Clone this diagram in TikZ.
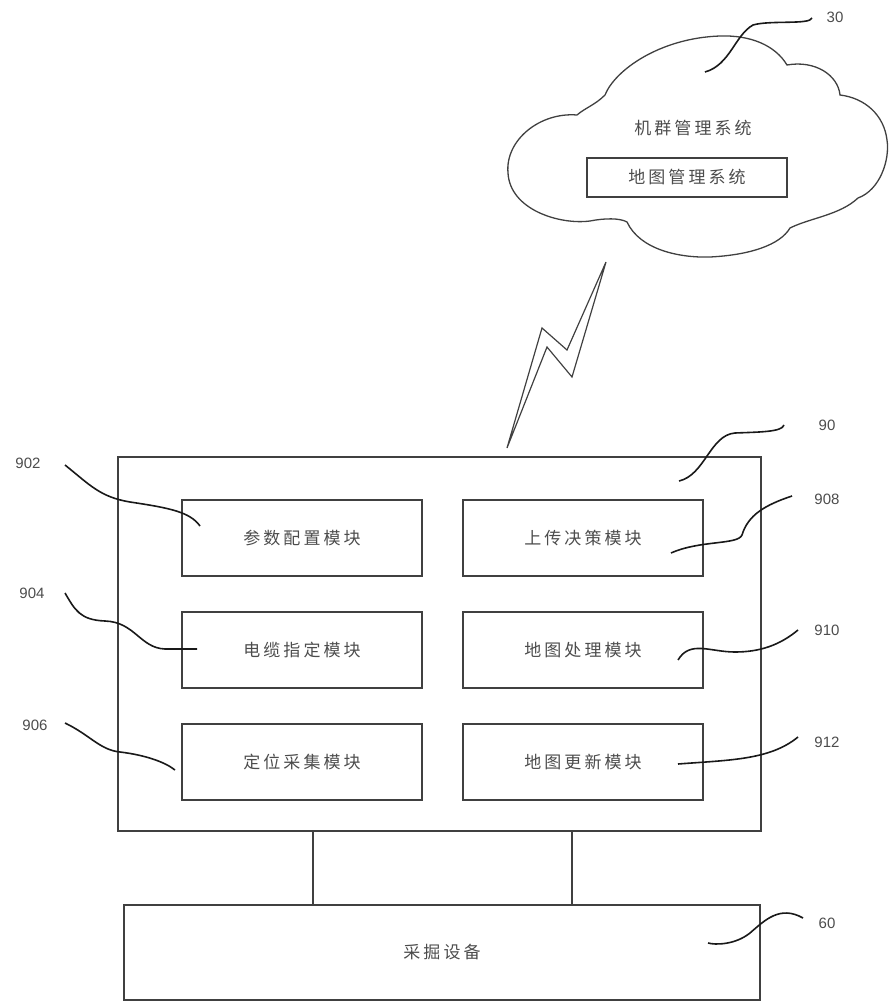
\documentclass[tikz,border=0pt]{standalone}
\usepackage{fontspec}
\setmainfont{Liberation Sans}
\newfontfamily\cjk[LetterSpace=18]{Noto Sans CJK SC}
\begin{document}
\begin{tikzpicture}[x=1pt,y=-1pt,
  frame/.style={draw=black!75, line width=1.5pt},
  box/.style={frame, minimum width=240pt, minimum height=76pt, inner sep=0pt, text=black!70, font=\cjk\fontsize{17}{19}\selectfont},
  lead/.style={draw=black!90, line width=1.6pt},
  num/.style={text=black!70, font=\fontsize{15}{17}\selectfont}]
\useasboundingbox (0,0) rectangle (888,1003);

% cloud 30
\draw[frame, line width=1.3pt] (577,115) .. controls (540,112) and (505,140) .. (508,173)
  .. controls (510,210) and (560,225) .. (590,221) .. controls (605,218) and (620,218) .. (627,222)
  .. controls (640,250) and (680,258) .. (710,257) .. controls (750,255) and (780,245) .. (790,228)
  .. controls (810,218) and (840,215) .. (858,198) .. controls (880,190) and (890,160) .. (887,140)
  .. controls (884,115) and (865,98) .. (840,95) .. controls (838,75) and (815,60) .. (787,65)
  .. controls (775,45) and (750,35) .. (720,36) .. controls (660,38) and (615,70) .. (605,95)
  .. controls (595,105) and (585,108) .. (577,115) -- cycle;
\node[box, draw=none] (fleet) at (693,128) {机群管理系统};
\node[box, minimum width=200pt, minimum height=39pt] (map) at (687,177.5) {地图管理系统};

% wireless link
\draw[frame, line width=1.2pt, line join=miter] (606,262) -- (567,350) -- (542,328) -- (507,448) -- (547,347) -- (572,377) -- cycle;

% system 90
\node[frame, minimum width=643pt, minimum height=374pt] (sys) at (439.5,644) {};
\foreach \n/\t/\x/\y in {902/参数配置模块/302/538, 904/电缆指定模块/302/650, 906/定位采集模块/302/762,
                         908/上传决策模块/583/538, 910/地图处理模块/583/650, 912/地图更新模块/583/762}
  \node[box] (m\n) at (\x,\y) {\t};

% equipment 60
\node[box, minimum width=636pt, minimum height=95pt] (dev) at (442,952.5) {采掘设备};
\coordinate (c1) at (313,0);
\coordinate (c2) at (572,0);
\foreach \c in {c1,c2} {\draw[frame] (sys.south -| \c) -- (dev.north -| \c);}

% labels
\foreach \n/\x/\y in {30/835/17, 90/827/425, 902/28/463, 904/32/593, 906/35/725,
                      908/827/499, 910/827/630, 912/827/742, 60/827/923}
  \node[num] (l\n) at (\x,\y) {\n};

\draw[lead] (812,18) .. controls (810,25) and (770,20) .. (753,25) .. controls (735,35) and (730,65) .. (705,72);
\draw[lead] (784,425) .. controls (782,432) and (760,432) .. (735,433) .. controls (710,435) and (705,475) .. (679,481);
\draw[lead] (65,465) .. controls (90,485) and (100,497) .. (130,502) .. controls (170,508) and (190,512) .. (200,526);
\draw[lead] (65,593) .. controls (75,610) and (80,620) .. (105,621) .. controls (135,622) and (140,648) .. (165,649) -- (197,649);
\draw[lead] (65,723) .. controls (90,735) and (100,750) .. (120,752) .. controls (145,755) and (165,762) .. (175,770);
\draw[lead] (792,496) .. controls (765,505) and (748,515) .. (742,535) .. controls (738,545) and (700,540) .. (671,553);
\draw[lead] (798,630) .. controls (780,645) and (760,652) .. (735,652) .. controls (710,652) and (690,640) .. (678,660);
\draw[lead] (798,737) .. controls (770,760) and (730,760) .. (678,764);
\draw[lead] (803,918) .. controls (780,905) and (765,920) .. (750,933) .. controls (735,945) and (715,945) .. (708,943);

\end{tikzpicture}
\end{document}
